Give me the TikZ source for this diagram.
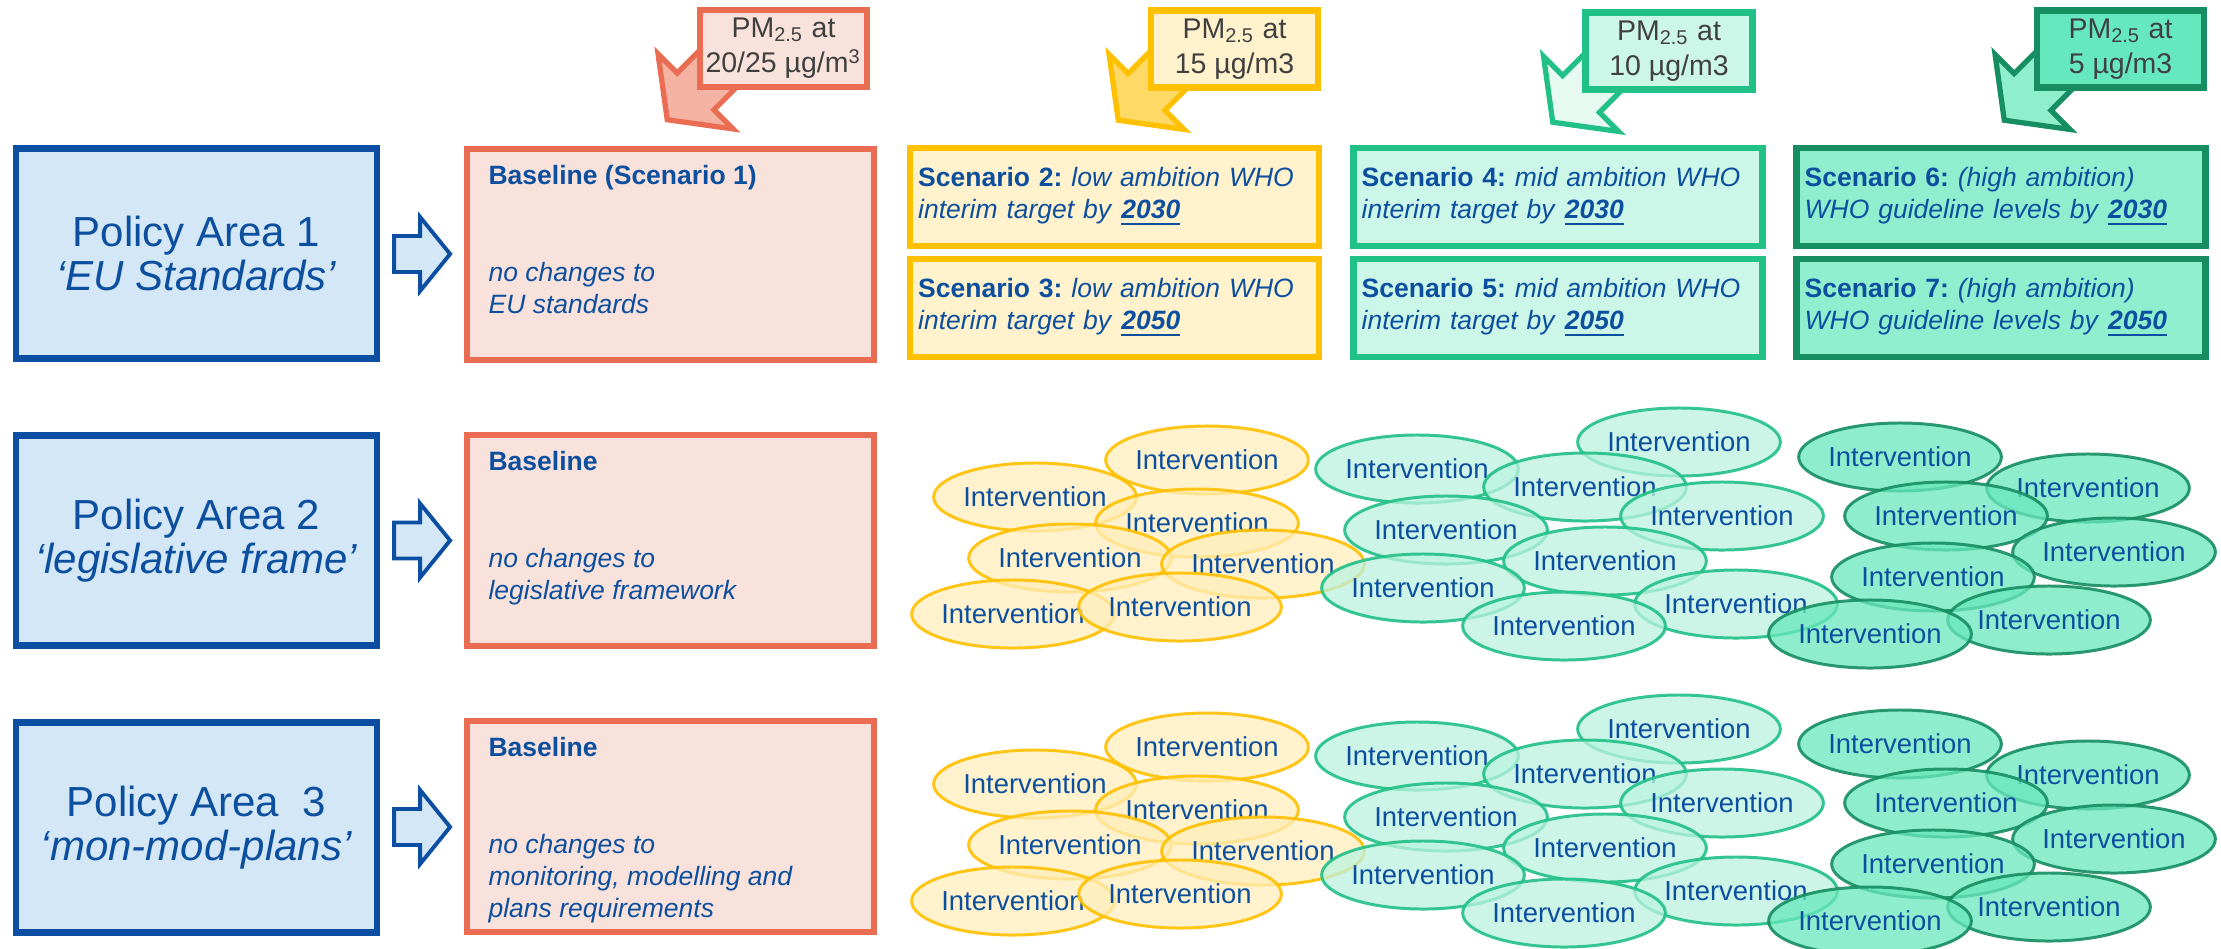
\documentclass[tikz,border=0pt]{standalone}
\usepackage{fontspec}
\setmainfont{Liberation Sans}
\usetikzlibrary{shapes.geometric,calc,backgrounds}

\definecolor{areablue}{HTML}{0B4EA2}
\definecolor{arealight}{HTML}{D3E7F7}
\definecolor{txtblue}{HTML}{0D4F9F}
\definecolor{calltxt}{HTML}{404040}
\definecolor{basered}{HTML}{E96C53}
\definecolor{basefill}{HTML}{F9E2DC}
\definecolor{basearrow}{HTML}{F4B3A3}
\definecolor{yelbord}{HTML}{FFC000}
\definecolor{yelfill}{HTML}{FFF2CC}
\definecolor{yelarrow}{HTML}{FFD966}
\definecolor{yeliv}{HTML}{FFEEBB}
\definecolor{midbord}{HTML}{21C087}
\definecolor{midfill}{HTML}{CCF6E8}
\definecolor{midarrow}{HTML}{E6FAF2}
\definecolor{midiv}{HTML}{BBF2E0}
\definecolor{hibord}{HTML}{178D62}
\definecolor{hifill}{HTML}{8EEECE}
\definecolor{hicall}{HTML}{66E8BE}
\definecolor{hiiv}{HTML}{68E7BC}

\tikzset{
  area/.style={draw=areablue, fill=arealight, line width=1.85pt,
    minimum width=3.61cm, minimum height=2.1cm, inner sep=0pt,
    align=center, text=txtblue, font=\fontsize{11.95pt}{12.5pt}\selectfont},
  blockarrow/.style={draw=areablue, fill=arealight, line width=1.1pt},
  basebox/.style={draw=basered, fill=basefill, line width=1.85pt,
    minimum width=4.065cm, minimum height=2.11cm, inner sep=0pt},
  basetitle/.style={text=txtblue, inner sep=0pt,
    font=\fontsize{7.54pt}{9.1pt}\selectfont\bfseries},
  basedesc/.style={text=txtblue, inner sep=0pt, align=left,
    font=\fontsize{7.54pt}{9.1pt}\selectfont\itshape},
  scen/.style={line width=1.85pt, minimum height=0.975cm, text width=3.925cm,
    inner xsep=0.08cm, inner ysep=0pt, align=left, text=txtblue,
    font=\fontsize{7.54pt}{9.1pt}\selectfont},
  lowscen/.style={scen, draw=yelbord, fill=yelfill},
  midscen/.style={scen, draw=midbord, fill=midfill},
  hiscen/.style={scen, draw=hibord, fill=hifill},
  callout/.style={line width=1.85pt, minimum width=1.665cm, minimum height=0.765cm,
    inner sep=0pt, align=center, text=calltxt,
    font=\fontsize{8.1pt}{10pt}\selectfont},
  pmarrow/.style={line width=1.5pt, rotate=225},
  interv/.style={ellipse, line width=0.85pt, minimum width=2cm, minimum height=0.68cm,
    inner sep=0pt, text=txtblue, font=\fontsize{7.8pt}{8pt}\selectfont,
    fill opacity=0.75, draw opacity=0.9, text opacity=1},
  lowiv/.style={interv, draw=yelbord, fill=yeliv},
  midiv/.style={interv, draw=midbord, fill=midiv},
  hiiv/.style={interv, draw=hibord, fill=hiiv}
}

\begin{document}
\frenchspacing
\begin{tikzpicture}[x=0.01cm, y=-0.01cm]
  \useasboundingbox (0,0) rectangle (2221,948);

  % policy areas
  \node[area] (pa1) at (196.5,253.5) {Policy Area 1\\\textit{‘EU Standards’}};
  \node[area] (pa2) at (196.5,540.5) {Policy Area 2\\\textit{‘legislative frame’}};
  \node[area] (pa3) at (196.5,827.5) {Policy Area\ \ 3\\\textit{‘mon-mod-plans’}};

  % baselines
  \node[basebox] (bl1) at (670.5,254.5) {};
  \node[basebox] (bl2) at (670.5,540.5) {};
  \node[basebox] (bl3) at (670.5,826.5) {};
  \node[basetitle, anchor=base west] (bt1) at ($(bl1.north west)+(24,39)$) {Baseline (Scenario 1)};
  \node[basetitle, anchor=base west] (bt2) at ($(bl2.north west)+(24,39)$) {Baseline};
  \node[basetitle, anchor=base west] (bt3) at ($(bl3.north west)+(24,39)$) {Baseline};
  % base anchor sits on the last line
  \node[basedesc, anchor=base west] (bd1) at ($(bl1.north west)+(24,168)$) {no changes to\\EU standards};
  \node[basedesc, anchor=base west] (bd2) at ($(bl2.north west)+(24,168)$) {no changes to\\legislative framework};
  \node[basedesc, anchor=base west] (bd3) at ($(bl3.north west)+(24,200)$) {no changes to\\monitoring, modelling and\\plans requirements};

  % arrows area -> baseline
  \draw[blockarrow] ($(pa1.east)!0.5!(bl1.west)$) ++(-28,-18) -- ++(26,0) -- ++(0,-19) -- ++(30,37) -- ++(-30,37) -- ++(0,-19) -- ++(-26,0) -- cycle;
  \draw[blockarrow] ($(pa2.east)!0.5!(bl2.west)$) ++(-28,-18) -- ++(26,0) -- ++(0,-19) -- ++(30,37) -- ++(-30,37) -- ++(0,-19) -- ++(-26,0) -- cycle;
  \draw[blockarrow] ($(pa3.east)!0.5!(bl3.west)$) ++(-28,-18) -- ++(26,0) -- ++(0,-19) -- ++(30,37) -- ++(-30,37) -- ++(0,-19) -- ++(-26,0) -- cycle;

  % scenarios
  \node[lowscen] (s2) at (1114.5,197) {\textbf{Scenario 2:} \textit{low ambition WHO}\\\textit{interim target by} \textbf{\textit{\underline{2030}}}};
  \node[lowscen] (s3) at (1114.5,308) {\textbf{Scenario 3:} \textit{low ambition WHO}\\\textit{interim target by} \textbf{\textit{\underline{2050}}}};
  \node[midscen] (s4) at (1558,197) {\textbf{Scenario 4:} \textit{mid ambition WHO}\\\textit{interim target by} \textbf{\textit{\underline{2030}}}};
  \node[midscen] (s5) at (1558,308) {\textbf{Scenario 5:} \textit{mid ambition WHO}\\\textit{interim target by} \textbf{\textit{\underline{2050}}}};
  \node[hiscen] (s6) at (2001,197) {\textbf{Scenario 6:} \textit{(high ambition)}\\\textit{WHO guideline levels by} \textbf{\textit{\underline{2030}}}};
  \node[hiscen] (s7) at (2001,308) {\textbf{Scenario 7:} \textit{(high ambition)}\\\textit{WHO guideline levels by} \textbf{\textit{\underline{2050}}}};

  % PM2.5 callouts
  \node[callout, draw=basered, fill=basefill] (c1) at (783.5,48.5) {PM\textsubscript{2.5} at\\20/25 µg/m\textsuperscript{3}};
  \node[callout, draw=yelbord, fill=yelfill] (c2) at (1234.5,49) {PM\textsubscript{2.5} at\\15 µg/m3};
  \node[callout, draw=midbord, fill=midfill] (c3) at (1669,51) {PM\textsubscript{2.5} at\\10 µg/m3};
  \node[callout, draw=hibord, fill=hicall] (c4) at (2120.5,49) {PM\textsubscript{2.5} at\\5 µg/m3};
  \begin{scope}[on background layer]
    \draw[pmarrow, draw=basered, fill=basearrow, shift={(c1.south west)}] (-70,26) -- (2,26) -- (2,53) -- (42,0) -- (2,-53) -- (2,-26) -- (-70,-26) -- cycle;
    \draw[pmarrow, draw=yelbord, fill=yelarrow, shift={(c2.south west)}] (-70,26) -- (2,26) -- (2,53) -- (42,0) -- (2,-53) -- (2,-26) -- (-70,-26) -- cycle;
    \draw[pmarrow, draw=midbord, fill=midarrow, shift={(c3.south west)}] (-70,26) -- (2,26) -- (2,53) -- (42,0) -- (2,-53) -- (2,-26) -- (-70,-26) -- cycle;
    \draw[pmarrow, draw=hibord, fill=hifill, shift={(c4.south west)}] (-70,26) -- (2,26) -- (2,53) -- (42,0) -- (2,-53) -- (2,-26) -- (-70,-26) -- cycle;
  \end{scope}

  % interventions, rows 2 and 3
  \foreach \r/\dy in {2/0,3/287}{
    \foreach \cx/\cy [count=\k] in {1035/497,1207/460,1197/523,1070/558,1263/564,1013/614,1180/607}
      \node[lowiv] (low\r-\k) at (\cx,\cy+\dy) {Intervention};
    \foreach \cx/\cy [count=\k] in {1417/469,1679/442,1585/487,1722/516,1446/530,1605/561,1423/588,1736/604,1564/626}
      \node[midiv] (mid\r-\k) at (\cx,\cy+\dy) {Intervention};
    \foreach \cx/\cy [count=\k] in {1900/457,2088/488,1946/516,2114/552,1933/577,2049/620,1870/634}
      \node[hiiv] (hi\r-\k) at (\cx,\cy+\dy) {Intervention};
  }
\end{tikzpicture}
\end{document}
